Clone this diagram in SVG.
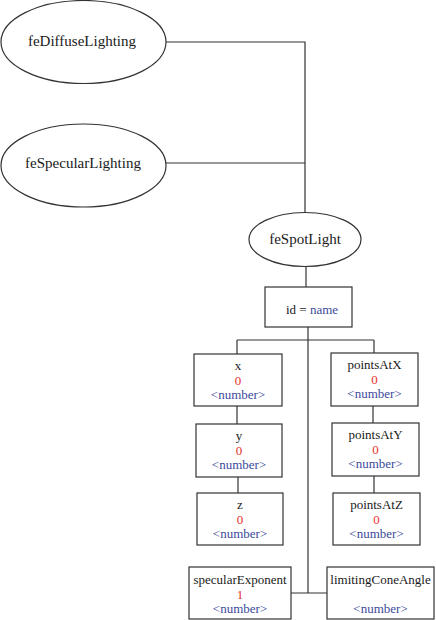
<svg xmlns="http://www.w3.org/2000/svg" width="436" height="620" viewBox="0 0 436 620">
<style>
.s{fill:#fff;stroke:#333;stroke-width:1.2}
.c{fill:none;stroke:#333;stroke-width:1.2}
text{font-family:"Liberation Serif","Times New Roman",serif;text-anchor:middle;fill:#1a1a1a}
.e{font-size:15px}
.b{font-size:13px}
.v{fill:#e8302a}
.t{fill:#3c4a9c}
</style>
<rect width="436" height="620" fill="#fff"/>
<g id="connectors">
<polyline class="c" points="166,42 305,42 305,213"/>
<line class="c" x1="166" y1="163" x2="305" y2="163"/>
<line class="c" x1="306" y1="266" x2="306" y2="287"/>
<line class="c" x1="308" y1="327" x2="308" y2="593"/>
<line class="c" x1="237" y1="340" x2="374" y2="340"/>
<line class="c" x1="237" y1="340" x2="237" y2="354"/>
<line class="c" x1="374" y1="340" x2="374" y2="353"/>
<line class="c" x1="237" y1="406" x2="237" y2="424"/>
<line class="c" x1="238" y1="477" x2="238" y2="493"/>
<line class="c" x1="373" y1="406" x2="373" y2="423"/>
<line class="c" x1="374" y1="476" x2="374" y2="493"/>
<line class="c" x1="291" y1="593" x2="327" y2="593"/>
</g>
<g id="feDiffuseLighting"><ellipse class="s" cx="83.5" cy="42" rx="82.5" ry="41.5"/><text class="e" x="82" y="46">feDiffuseLighting</text></g>
<g id="feSpecularLighting"><ellipse class="s" cx="83.5" cy="165.5" rx="82.5" ry="41.5"/><text class="e" x="83" y="168">feSpecularLighting</text></g>
<g id="feSpotLight"><ellipse class="s" cx="305" cy="239.5" rx="56" ry="27"/><text class="e" x="305" y="244">feSpotLight</text></g>
<g id="id"><rect class="s" x="265" y="287" width="87" height="40"/><text class="b" x="312" y="313.5">id = <tspan class="t">name</tspan></text></g>
<g id="x"><rect class="s" x="194" y="354" width="88" height="52"/><text class="b" x="238" y="369.5">x</text><text class="b v" x="238" y="384.5">0</text><text class="b t" x="238" y="398.5">&lt;number&gt;</text></g>
<g id="y"><rect class="s" x="196" y="424" width="86" height="53"/><text class="b" x="239" y="439.5">y</text><text class="b v" x="239" y="454.5">0</text><text class="b t" x="239" y="468.5">&lt;number&gt;</text></g>
<g id="z"><rect class="s" x="197" y="493" width="86" height="52"/><text class="b" x="240" y="508.5">z</text><text class="b v" x="240" y="523.5">0</text><text class="b t" x="240" y="537.5">&lt;number&gt;</text></g>
<g id="pointsAtX"><rect class="s" x="331" y="353" width="87" height="53"/><text class="b" x="374.5" y="369">pointsAtX</text><text class="b v" x="374.5" y="384">0</text><text class="b t" x="374.5" y="398">&lt;number&gt;</text></g>
<g id="pointsAtY"><rect class="s" x="332" y="423" width="87" height="53"/><text class="b" x="375.5" y="439">pointsAtY</text><text class="b v" x="375.5" y="454">0</text><text class="b t" x="375.5" y="468">&lt;number&gt;</text></g>
<g id="pointsAtZ"><rect class="s" x="333" y="493" width="87" height="52"/><text class="b" x="376.5" y="508.5">pointsAtZ</text><text class="b v" x="376.5" y="523.5">0</text><text class="b t" x="376.5" y="537.5">&lt;number&gt;</text></g>
<g id="specularExponent"><rect class="s" x="189" y="567" width="102" height="52"/><text class="b" x="240" y="583.5">specularExponent</text><text class="b v" x="240" y="598.5">1</text><text class="b t" x="240" y="612.5">&lt;number&gt;</text></g>
<g id="limitingConeAngle"><rect class="s" x="327" y="567" width="107" height="52"/><text class="b" x="380.5" y="583.5">limitingConeAngle</text><text class="b t" x="380.5" y="612.5">&lt;number&gt;</text></g>
</svg>
